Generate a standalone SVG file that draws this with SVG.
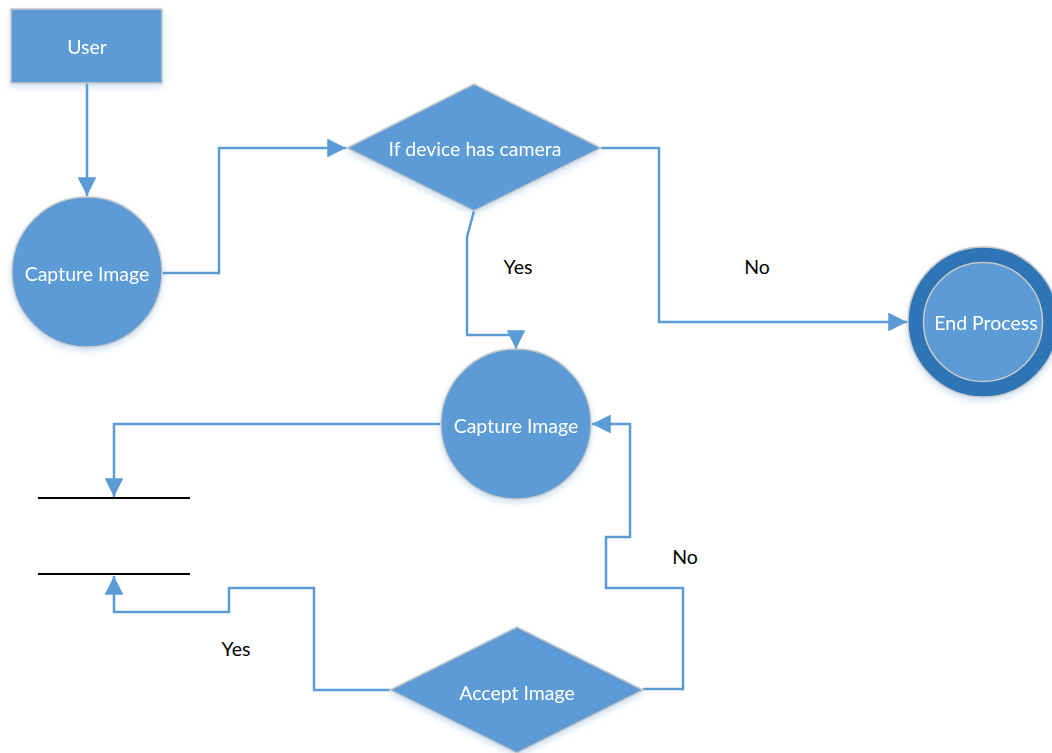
<svg xmlns="http://www.w3.org/2000/svg" width="1052" height="753" viewBox="0 0 1052 753">
<style>
.node{fill:#5B9BD5;stroke:#C8C8C8;stroke-width:1.5}
.lbl{font-family:Lato,"Liberation Sans",sans-serif;font-size:19.5px;fill:#FFFFFF;text-anchor:middle;dominant-baseline:central}
.elbl{font-family:Lato,"Liberation Sans",sans-serif;font-size:19.5px;fill:#000000;text-anchor:middle;dominant-baseline:central}
.conn{fill:none;stroke:#5B9BD5;stroke-width:2.5;marker-end:url(#arr)}
.bar{stroke:#000000;stroke-width:2}
</style>
<defs>
<marker id="arr" viewBox="0 0 10 10" refX="10" refY="5" markerWidth="7.5" markerHeight="7.5" orient="auto" markerUnits="strokeWidth">
<path d="M0,0 L10,5 L0,10 z" fill="#5B9BD5"/>
</marker>
<filter id="sh" x="-20%" y="-20%" width="140%" height="140%">
<feDropShadow dx="0" dy="3" stdDeviation="3" flood-color="#5B9BD5" flood-opacity="0.3"/>
</filter>
</defs>
<rect width="1052" height="753" fill="#FFFFFF"/>
<g id="connectors">
<path class="conn" d="M87,83 V196"/>
<path class="conn" d="M162,273 H219 V148 H346"/>
<path class="conn" d="M474,211 L467,237 V335 H516 V349"/>
<path class="conn" d="M601,148 H659 V322 H907"/>
<path class="conn" d="M441,424 H114 V497"/>
<path class="conn" d="M390,690 H314 V588 H229 V612 H114 V576"/>
<path class="conn" d="M643,689 H683 V588 H606 V537 H630 V424 H592"/>
</g>
<g id="user" filter="url(#sh)">
<rect class="node" x="11" y="9" width="151" height="74"/>
<text class="lbl" x="87" y="46">User</text>
</g>
<g id="capture1" filter="url(#sh)">
<circle class="node" cx="87" cy="272" r="75"/>
<text class="lbl" x="87" y="273">Capture Image</text>
</g>
<g id="decision1" filter="url(#sh)">
<polygon class="node" points="347,148 474,84 601,148 474,211"/>
<text class="lbl" x="475" y="148">If device has camera</text>
</g>
<g id="endprocess" filter="url(#sh)">
<circle cx="983" cy="322" r="75" fill="#2E75B6" stroke="#C8C8C8" stroke-width="1.5"/>
<circle class="node" cx="983" cy="322" r="59.5"/>
<text class="lbl" x="986" y="322">End Process</text>
</g>
<g id="capture2" filter="url(#sh)">
<circle class="node" cx="516" cy="424" r="75"/>
<text class="lbl" x="516" y="425">Capture Image</text>
</g>
<g id="datastore">
<line class="bar" x1="38" y1="498" x2="190" y2="498"/>
<line class="bar" x1="38" y1="574" x2="190" y2="574"/>
</g>
<g id="accept" filter="url(#sh)">
<polygon class="node" points="390,690 517,627 643,690 517,753"/>
<text class="lbl" x="517" y="692">Accept Image</text>
</g>
<g id="edge-labels">
<text class="elbl" x="518" y="266">Yes</text>
<text class="elbl" x="757" y="266">No</text>
<text class="elbl" x="685" y="556">No</text>
<text class="elbl" x="236" y="648">Yes</text>
</g>
</svg>
